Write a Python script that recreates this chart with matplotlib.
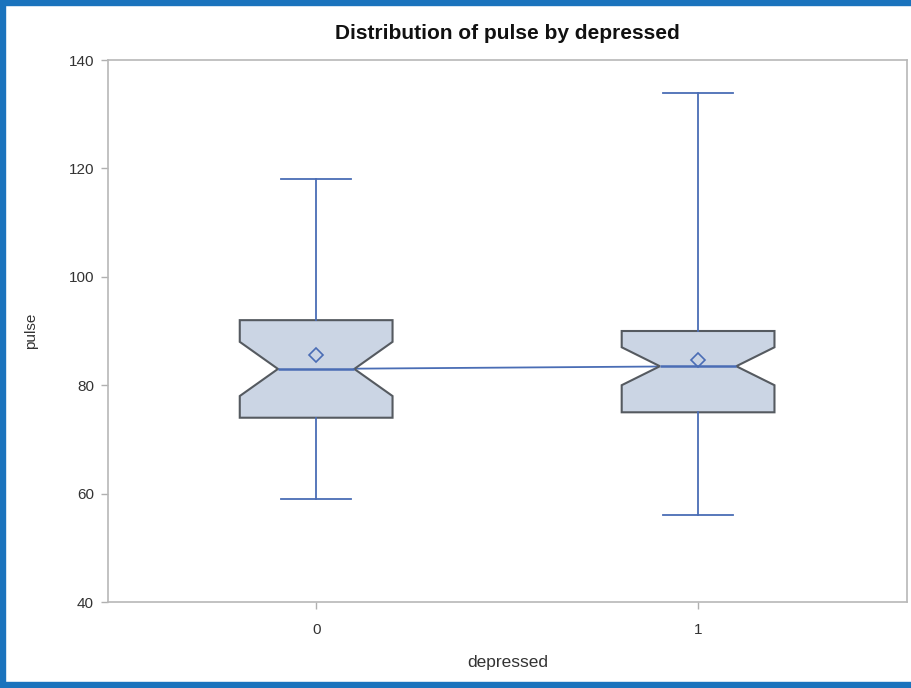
import matplotlib
matplotlib.use("Agg")
import matplotlib.pyplot as plt
from matplotlib.patches import Rectangle

plt.rcParams['font.family'] = ['Liberation Sans', 'DejaVu Sans']

categories = ["0", "1"]
q1 = [74, 75]
median = [83, 83.5]
q3 = [92, 90]
notch_lo = [78, 80]
notch_hi = [88, 87]
whisker_lo = [59, 56]
whisker_hi = [118, 134]
means = [85.5, 84.6]

box_fill = "#CBD5E4"
box_edge = "#555A60"
blue = "#4A6DB5"

fig = plt.figure(figsize=(9.11, 6.88), dpi=100)
ax = fig.add_axes([108/911, 1-602/688, (907-108)/911, (602-60)/688])

positions = list(range(len(categories)))
stats = []
for i in positions:
    stats.append(dict(med=median[i], q1=q1[i], q3=q3[i], cilo=notch_lo[i], cihi=notch_hi[i],
                      whislo=whisker_lo[i], whishi=whisker_hi[i], mean=means[i], fliers=[],
                      label=categories[i]))

# connecting line of medians
ax.plot(positions, median, color=blue, lw=1.3, zorder=1)

ax.bxp(stats, positions=positions, widths=0.40, capwidths=0.185, shownotches=True, showmeans=True,
       patch_artist=True,
       boxprops=dict(facecolor=box_fill, edgecolor=box_edge, linewidth=1.5),
       medianprops=dict(color=blue, linewidth=1.8),
       whiskerprops=dict(color=blue, linewidth=1.3),
       capprops=dict(color=blue, linewidth=1.3),
       meanprops=dict(marker="D", markerfacecolor="none", markeredgecolor=blue,
                      markersize=7, markeredgewidth=1.2),
       zorder=2)

ax.set_xlim(-0.545, 1.547)
ax.set_ylim(40, 140)
ax.set_yticks([40, 60, 80, 100, 120, 140])
ax.set_xticks(positions)
ax.set_xticklabels(categories)

for s in ax.spines.values():
    s.set_color("#B8B8B8")
    s.set_linewidth(1.2)
ax.tick_params(colors="#B0B0B0", labelcolor="#333333", labelsize=11, length=5, width=1, pad=5)
ax.tick_params(axis="x", pad=10)

ax.set_title("Distribution of pulse by depressed", fontsize=15, fontweight="bold", pad=15, color="#111111")
ax.set_xlabel("depressed", fontsize=12.5, labelpad=13, color="#333333")
ax.set_ylabel("pulse", fontsize=11, labelpad=22, color="#333333")

border = "#1A73BD"
fig.patches.append(Rectangle((0, 0), 5/911, 1, transform=fig.transFigure, color=border, zorder=10))
fig.patches.append(Rectangle((0, 1-5/688), 1, 5/688, transform=fig.transFigure, color=border, zorder=10))
fig.patches.append(Rectangle((0, 0), 1, 6/688, transform=fig.transFigure, color=border, zorder=10))

fig.savefig("out.png", dpi=100)
